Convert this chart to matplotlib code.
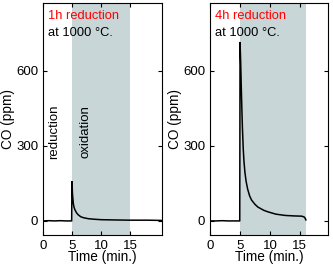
import numpy as np
import matplotlib
matplotlib.use('Agg')
import matplotlib.pyplot as plt

plt.rcParams['font.family'] = ['Liberation Sans', 'DejaVu Sans']

# 1h reduction run
t_1h = [0, 1, 2, 3, 4, 4.95, 5.0, 5.05, 5.1, 5.23, 5.35, 5.52, 5.8, 6.1, 6.5, 6.95, 7.8, 8.7,
        10.0, 12.1, 15.0, 18.0, 20.5]
co_1h = [0, 1, 0, 1, 0, 0, 157, 130, 105, 71, 55, 44, 32, 24, 17, 13, 9, 7,
         5, 4, 3, 3, 2]

# 4h reduction run
t_4h = [0, 1, 2, 3, 4, 4.95, 5.0, 5.1, 5.2, 5.3, 5.4, 5.53, 5.65, 5.81, 6.0, 6.26, 6.6, 6.93,
        7.5, 8.0, 9.0, 9.7, 11.0, 12.5, 14.0, 15.3, 15.7, 15.9, 16.0]
co_4h = [0, 0, 1, 0, 0, 0, 712, 640, 540, 450, 370, 290, 240, 195, 160, 128, 100, 83,
         66, 55, 42, 36, 27, 22, 20, 19, 16, 10, 4]

panels = [
    (t_1h, co_1h, '1h reduction', (5, 15), 20.5),
    (t_4h, co_4h, '4h reduction', (5, 16), 19.7),
]

fig = plt.figure(figsize=(3.33, 2.67), dpi=100)
ax1 = fig.add_axes([0.129, 0.120, 0.357, 0.869])
ax2 = fig.add_axes([0.631, 0.120, 0.354, 0.869])

for ax, (t, co, title, shade, xmax) in zip([ax1, ax2], panels):
    ax.axvspan(shade[0], shade[1], color='#c8d6d8', lw=0)
    ax.plot(t, co, color='black', lw=1.1)
    ax.set_xlim(0, xmax)
    ax.set_ylim(-56, 870)
    ax.set_xticks([0, 5, 10, 15])
    ax.set_yticks([0, 300, 600])
    ax.tick_params(direction='in', top=True, right=True, length=3, labelsize=9.5, pad=3.5)
    ax.set_xlabel('Time (min.)', fontsize=9.8, labelpad=-1)
    ax.set_ylabel('CO (ppm)', fontsize=9.8, labelpad=1)
    ax.text(0.045, 0.931, title, color='red', fontsize=9.3, transform=ax.transAxes, va='baseline')
    ax.text(0.045, 0.859, 'at 1000 °C.', color='black', fontsize=9.3, transform=ax.transAxes, va='baseline')

ax1.text(1.9, 356, 'reduction', rotation=90, fontsize=9.5, ha='center', va='center')
ax1.text(7.3, 356, 'oxidation', rotation=90, fontsize=9.5, ha='center', va='center')

fig.savefig('out.png', dpi=100)
